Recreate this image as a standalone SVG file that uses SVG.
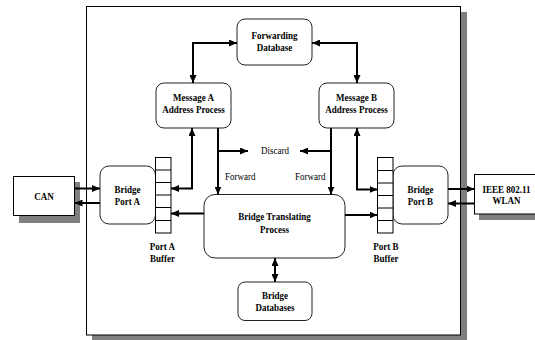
<svg xmlns="http://www.w3.org/2000/svg" width="535" height="340" viewBox="0 0 535 340">
<defs>
<style>
.shadow{fill:#7f7f7f;stroke:none}
.frame{fill:#fff;stroke:#000;stroke-width:1}
.box{fill:#fff;stroke:#222;stroke-width:1}
.buf{fill:#fff;stroke:#000;stroke-width:1}
.conn{fill:none;stroke:#000;stroke-width:2}
.t{font-family:"Liberation Serif","Times New Roman",serif;font-size:11px;font-weight:bold;text-anchor:middle;fill:#000}
.r{font-family:"Liberation Serif","Times New Roman",serif;font-size:11px;font-weight:normal;text-anchor:start;fill:#000}
</style>
<marker id="ah" markerUnits="userSpaceOnUse" markerWidth="8" markerHeight="7" refX="8" refY="3.5" orient="auto-start-reverse">
<path d="M0,0 L8,3.5 L0,7 z" fill="#000"/>
</marker>
</defs>

<g id="frame">
<rect class="shadow" x="92" y="12" width="375" height="330"/>
<rect class="frame" x="86.5" y="6.5" width="374" height="328.5"/>
</g>

<g id="forwarding-db">
<rect class="box" x="237" y="19" width="75" height="46" rx="8"/>
<text class="t" transform="translate(274.5,38.5) scale(0.82,1)">Forwarding</text>
<text class="t" transform="translate(274.5,50.5) scale(0.82,1)">Database</text>
</g>

<g id="message-a">
<rect class="box" x="156" y="83" width="75" height="45" rx="8"/>
<text class="t" transform="translate(193.5,100.5) scale(0.82,1)">Message A</text>
<text class="t" transform="translate(193.5,113) scale(0.82,1)">Address Process</text>
</g>

<g id="message-b">
<rect class="box" x="319" y="83" width="75" height="45" rx="8"/>
<text class="t" transform="translate(356.5,100.5) scale(0.82,1)">Message B</text>
<text class="t" transform="translate(356.5,113) scale(0.82,1)">Address Process</text>
</g>

<g id="discard">
<text class="r" transform="translate(261,154) scale(0.82,1)">Discard</text>
</g>

<g id="forward-labels">
<text class="r" transform="translate(225,180) scale(0.82,1)">Forward</text>
<text class="r" transform="translate(295,180) scale(0.82,1)">Forward</text>
</g>

<g id="bridge-translating">
<rect class="box" x="204" y="194.5" width="141" height="63.5" rx="11"/>
<text class="t" transform="translate(274.5,220) scale(0.82,1)">Bridge Translating</text>
<text class="t" transform="translate(274.5,232.5) scale(0.82,1)">Process</text>
</g>

<g id="bridge-databases">
<rect class="box" x="238" y="282" width="74" height="38.5" rx="7"/>
<text class="t" transform="translate(275,298.5) scale(0.82,1)">Bridge</text>
<text class="t" transform="translate(275,311) scale(0.82,1)">Databases</text>
</g>

<g id="bridge-port-a">
<rect class="box" x="100" y="166" width="55.5" height="58" rx="9"/>
<text class="t" transform="translate(127.5,192.5) scale(0.82,1)">Bridge</text>
<text class="t" transform="translate(127.5,204.5) scale(0.82,1)">Port A</text>
</g>

<g id="bridge-port-b">
<rect class="box" x="393" y="166" width="55" height="58" rx="9"/>
<text class="t" transform="translate(420.5,192.5) scale(0.82,1)">Bridge</text>
<text class="t" transform="translate(420.5,204.5) scale(0.82,1)">Port B</text>
</g>

<g id="port-a-buffer">
<rect class="buf" x="155.5" y="157.5" width="15.5" height="75.5"/>
<path class="buf" d="M155.5,170H171M155.5,182.5H171M155.5,195H171M155.5,207.5H171M155.5,220.5H171"/>
<text class="t" transform="translate(162.5,250) scale(0.82,1)">Port A</text>
<text class="t" transform="translate(162.5,262) scale(0.82,1)">Buffer</text>
</g>

<g id="port-b-buffer">
<rect class="buf" x="377.5" y="157.5" width="15.5" height="75.5"/>
<path class="buf" d="M377.5,170.5H393M377.5,183H393M377.5,195.5H393M377.5,208H393M377.5,220.5H393"/>
<text class="t" transform="translate(386,250) scale(0.82,1)">Port B</text>
<text class="t" transform="translate(386,262) scale(0.82,1)">Buffer</text>
</g>

<g id="can">
<rect class="shadow" x="19" y="182" width="61" height="41"/>
<rect class="box" x="13.5" y="176.5" width="61" height="39" style="stroke:#000"/>
<text class="t" transform="translate(44,199.5) scale(0.82,1)">CAN</text>
</g>

<g id="wlan">
<rect class="shadow" x="479" y="180" width="60" height="40"/>
<rect class="box" x="474.5" y="174.5" width="64" height="39.5" style="stroke:#000"/>
<text class="t" transform="translate(506.5,192.5) scale(0.82,1)">IEEE 802.11</text>
<text class="t" transform="translate(506.5,204) scale(0.82,1)">WLAN</text>
</g>

<g id="connectors" class="conn">
<path class="conn" d="M193,83V43H237" marker-start="url(#ah)" marker-end="url(#ah)"/>
<path class="conn" d="M357,83V43H312" marker-start="url(#ah)" marker-end="url(#ah)"/>
<path class="conn" d="M192,128V188.5H171" marker-start="url(#ah)" marker-end="url(#ah)"/>
<path class="conn" d="M218,128V194.5" marker-end="url(#ah)"/>
<path class="conn" d="M218,151H248" marker-end="url(#ah)"/>
<path class="conn" d="M331,128V194.5" marker-end="url(#ah)"/>
<path class="conn" d="M331,151H300" marker-end="url(#ah)"/>
<path class="conn" d="M357,128V189.5H377.5" marker-start="url(#ah)" marker-end="url(#ah)"/>
<path class="conn" d="M204,213.5H171" marker-end="url(#ah)"/>
<path class="conn" d="M345,215H377.5" marker-end="url(#ah)"/>
<path class="conn" d="M275,258V282" marker-start="url(#ah)" marker-end="url(#ah)"/>
<path class="conn" d="M74.5,188.5H100" marker-end="url(#ah)"/>
<path class="conn" d="M100,203H74.5" marker-end="url(#ah)"/>
<path class="conn" d="M448,189H474.5" marker-end="url(#ah)"/>
<path class="conn" d="M474.5,203.5H448" marker-end="url(#ah)"/>
</g>
</svg>
